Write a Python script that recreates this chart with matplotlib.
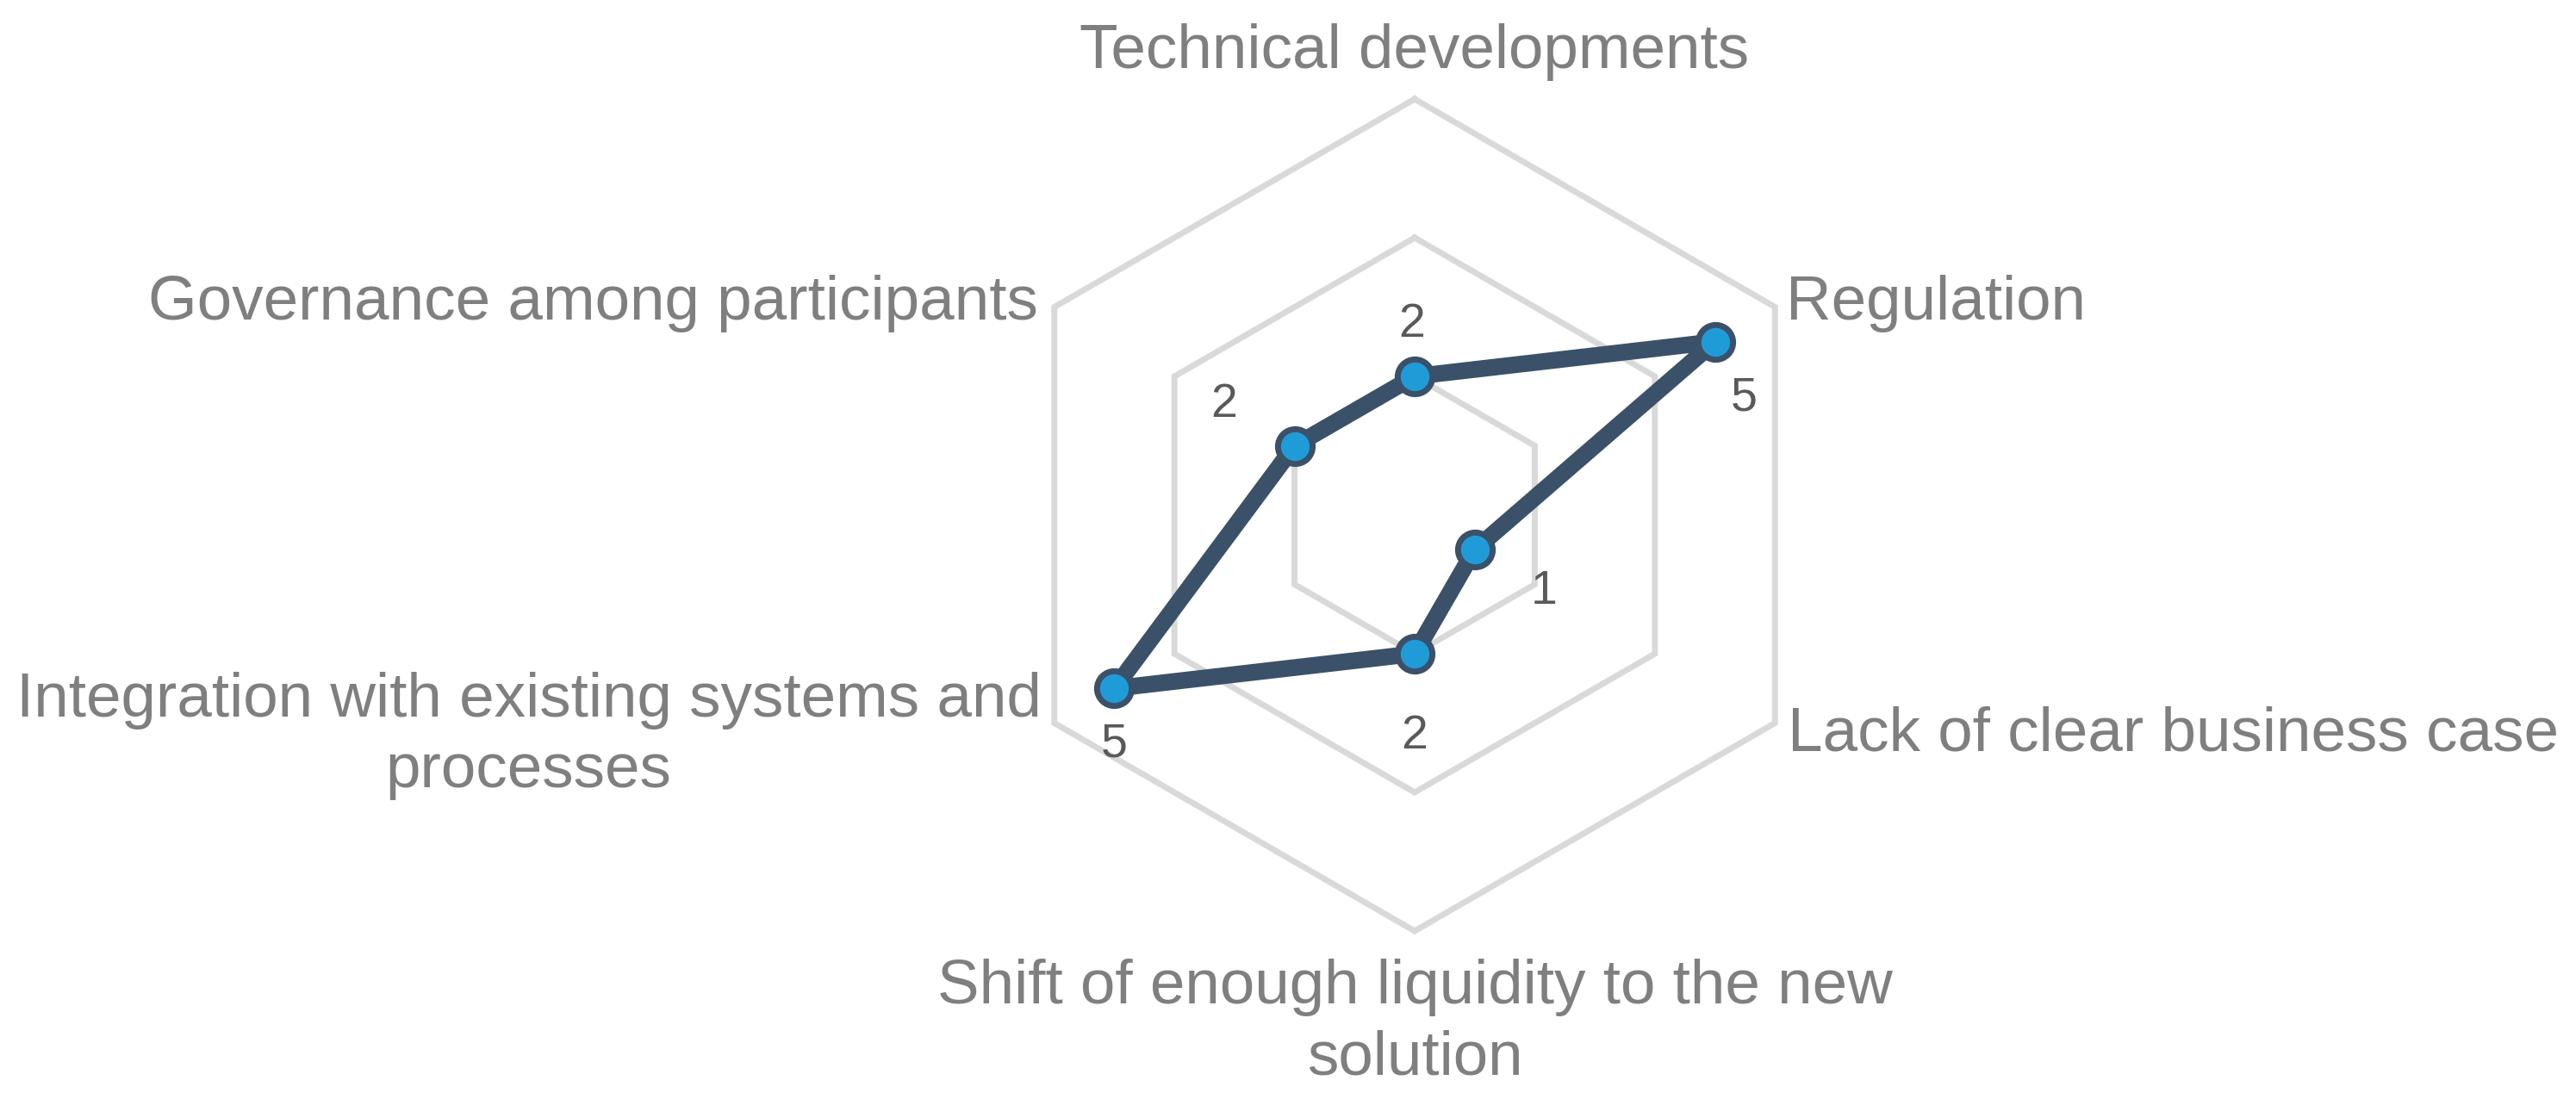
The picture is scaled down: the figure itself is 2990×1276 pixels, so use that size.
import numpy as np
import matplotlib
matplotlib.use("Agg")
import matplotlib.pyplot as plt

# ---- data ----
categories = [
    "Technical developments",
    "Regulation",
    "Lack of clear business case",
    "Shift of enough liquidity to the new\nsolution",
    "Integration with existing systems and\nprocesses",
    "Governance among participants",
]
values = [2, 5, 1, 2, 5, 2]
ring_levels = [2, 4, 6]
r_max = 6

# ---- style / layout ----
line_color = "#3b5169"
marker_color = "#1f9cd8"
grid_color = "#d9d9d9"
cat_color = "#7f7f7f"
val_color = "#595959"
font = "Liberation Sans"

# category label placement (pixel offsets of last-line baseline from outer vertex, ha)
cat_layout = [
    ((0, 36), "center"),
    ((13, -15), "left"),
    ((15, -32), "left"),
    ((0, -166), "center"),
    ((-15, -74), "right"),
    ((-19, -15), "right"),
]
# value label offsets (pixels, centre of digit relative to point)
val_offsets = [(-3, 60), (34, -66), (80, -49), (0, -96), (0, -65), (-82, 47)]

W, H, DPI = 2990, 1276, 100
fig = plt.figure(figsize=(W / DPI, H / DPI), dpi=DPI)
cx, cy, R = 1642, 598, 483
ax = fig.add_axes([(cx - R) / W, (H - cy - R) / H, 2 * R / W, 2 * R / H],
                  projection="polar")
ax.set_theta_zero_location("N")
ax.set_theta_direction(-1)
ax.set_ylim(0, r_max)
ax.grid(False)
ax.set_xticks([])
ax.set_yticks([])
ax.spines["polar"].set_visible(False)
ax.patch.set_alpha(0)

n = len(categories)
theta = np.arange(n) * 2 * np.pi / n
theta_c = np.append(theta, theta[0])

for lvl in ring_levels:
    ax.plot(theta_c, [lvl] * (n + 1), color=grid_color, lw=5,
            clip_on=False, zorder=1, solid_joinstyle="miter")

vals_c = values + values[:1]
ax.plot(theta_c, vals_c, color=line_color, lw=14, clip_on=False, zorder=3,
        solid_joinstyle="round", solid_capstyle="round")
ax.plot(theta, values, linestyle="none", marker="o", markersize=29,
        markerfacecolor=marker_color, markeredgecolor=line_color,
        markeredgewidth=5, clip_on=False, zorder=4)

for t, lab, (off, ha) in zip(theta, categories, cat_layout):
    ax.annotate(lab, xy=(t, r_max), xytext=off, textcoords="offset pixels",
                ha=ha, va="baseline", multialignment="center",
                fontsize=52.5, color=cat_color, family=font,
                linespacing=1.28, annotation_clip=False)

for t, v, off in zip(theta, values, val_offsets):
    ax.annotate(str(v), xy=(t, v), xytext=off, textcoords="offset pixels",
                ha="center", va="center", fontsize=40, color=val_color,
                family=font, annotation_clip=False)

fig.savefig("out.png", dpi=DPI)
